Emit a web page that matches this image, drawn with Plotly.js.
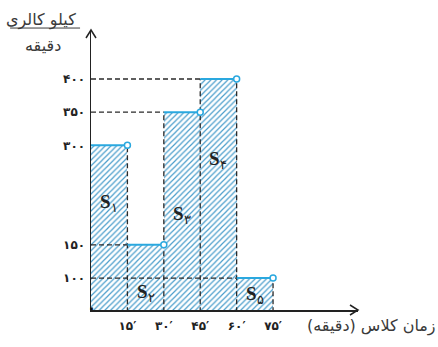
<!DOCTYPE html>
<html>
<head>
<meta charset="utf-8">
<script src="https://cdn.plot.ly/plotly-3.0.1.min.js"></script>
<style>
  html, body { margin: 0; padding: 0; background: #fff; }
  #chart { width: 438px; height: 347px; }
</style>
</head>
<body>
<div id="chart"></div>
<script>
// class time intervals (minutes) and burned energy (kcal per minute)
let binStart = [0, 15, 30, 45, 60];
let binWidth = 15;
let kcal = [300, 150, 350, 400, 100];
let areaNames = ['۱', '۲', '۳', '۴', '۵'];
let labelY = [213, 77, 195, 278, 74];

let xTickVals = [15, 30, 45, 60, 75];
let xTickText = ['۱۵′', '۳۰′', '۴۵′', '۶۰′', '۷۵′'];
let yTickVals = [100, 150, 300, 350, 400];
let yTickText = ['۱۰۰', '۱۵۰', '۳۰۰', '۳۵۰', '۴۰۰'];

let blue = '#2aa8df';
let dashCol = '#2a2a2a';
let yBottom = 51.8;

let traces = [];

// hatched bars
traces.push({
    type: 'bar',
    x: binStart.map(s => s + binWidth / 2),
    y: kcal,
    width: binWidth,
    marker: {
        color: '#c6e4f3',
        line: {width: 0},
        pattern: {shape: '/', fgcolor: '#4a9dcb', size: 4, solidity: 0.3}
    },
    hoverinfo: 'none'
});

// dashed guides: horizontal from y axis to each bar's left side
let gx = [], gy = [];
for (let i = 1; i < kcal.length; i++) {
    gx.push(0, binStart[i], null);
    gy.push(kcal[i], kcal[i], null);
}
// vertical dashed edges, as tall as the taller neighbour
for (let i = 0; i < kcal.length; i++) {
    let edge = binStart[i] + binWidth;
    let h = Math.max(kcal[i], i + 1 < kcal.length ? kcal[i + 1] : 0);
    gx.push(edge, edge, null);
    gy.push(0, h, null);
}
traces.push({
    type: 'scatter', mode: 'lines', x: gx, y: gy,
    line: {color: dashCol, width: 1.3, dash: '5px,3px'},
    hoverinfo: 'none'
});

// blue tops of the steps
let tx = [], ty = [];
binStart.forEach((s, i) => {
    tx.push(s, s + binWidth, null);
    ty.push(kcal[i], kcal[i], null);
});
traces.push({
    type: 'scatter', mode: 'lines', x: tx, y: ty,
    line: {color: blue, width: 2},
    hoverinfo: 'none'
});
traces.push({
    type: 'scatter', mode: 'markers',
    x: binStart.map(s => s + binWidth), y: kcal,
    marker: {symbol: 'circle', size: 6, color: '#fff', line: {color: blue, width: 1.5}},
    hoverinfo: 'none', cliponaxis: false
});

let persian = {family: 'DejaVu Sans', size: 16, color: '#3a3a3a'};
let annotations = binStart.map((s, i) => ({
    x: s + binWidth / 2, y: labelY[i], xref: 'x', yref: 'y',
    text: '<b>S</b><sub>' + areaNames[i] + '</sub>',
    showarrow: false,
    font: {family: 'Liberation Serif', size: 19, color: '#222'}
}));
// y unit, written as a fraction, and x title
annotations.push(
    {x: -0.049, y: 1.08, xref: 'paper', yref: 'paper', xanchor: 'right', align: 'right',
     text: 'کیلو کالری', showarrow: false, font: persian},
    {x: -0.105, y: 0.985, xref: 'paper', yref: 'paper', xanchor: 'right', align: 'right',
     text: 'دقیقه', showarrow: false, font: persian},
    {x: 0.801, y: -0.1, xref: 'paper', yref: 'paper', xanchor: 'left', align: 'left',
     text: 'زمان کلاس (دقیقه)', showarrow: false, font: persian},
    {x: 0, y: 0, xref: 'paper', yref: 'paper', text: '<b>۰</b>', showarrow: false,
     xshift: -6, yshift: -9, font: {family: 'DejaVu Sans', size: 15, color: '#111'}}
);

let layout = {
    width: 438, height: 347,
    margin: {l: 91, r: 80, t: 30, b: 37, pad: 0},
    paper_bgcolor: '#fff', plot_bgcolor: '#fff',
    showlegend: false,
    bargap: 0,
    xaxis: {
        range: [0, 110], showgrid: false, zeroline: false,
        showline: true, linecolor: '#222', linewidth: 1.5,
        tickvals: xTickVals, ticktext: xTickText, ticks: '',
        ticklabelstandoff: 4,
        tickfont: {family: 'DejaVu Sans', size: 12, color: '#222', weight: 'bold'}
    },
    yaxis: {
        range: [yBottom, 473.9], showgrid: false, zeroline: false,
        showline: true, linecolor: '#222', linewidth: 1.5,
        tickvals: yTickVals, ticktext: yTickText, ticks: '',
        ticklabelstandoff: 2,
        tickfont: {family: 'DejaVu Sans', size: 12, color: '#222', weight: 'bold'}
    },
    shapes: [
        // arrow heads of the axes
        {type: 'path', xref: 'paper', yref: 'paper', xsizemode: 'pixel', ysizemode: 'pixel',
         xanchor: 1, yanchor: 0, path: 'M-8,-5L0,0L-8,5', line: {color: '#222', width: 1.5}},
        {type: 'path', xref: 'paper', yref: 'paper', xsizemode: 'pixel', ysizemode: 'pixel',
         xanchor: 0, yanchor: 1, path: 'M-5,-8L0,0L5,-8', line: {color: '#222', width: 1.5}},
        // fraction bar of the y unit
        {type: 'line', xref: 'paper', yref: 'paper', x0: -0.303, x1: -0.041, y0: 1.007, y1: 1.007,
         line: {color: '#3a3a3a', width: 1}}
    ],
    annotations: annotations
};

Plotly.newPlot('chart', traces, layout, {displayModeBar: false, staticPlot: true});
</script>
</body>
</html>
